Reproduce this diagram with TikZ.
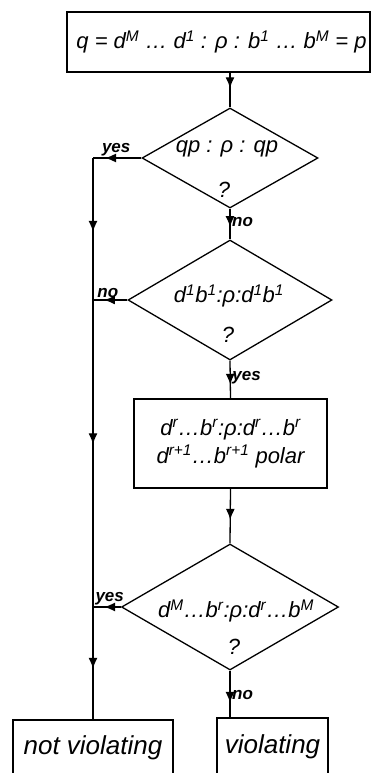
\documentclass[tikz,border=0pt]{standalone}
\usepackage{fontspec}
\setmainfont{Liberation Sans}
\usetikzlibrary{shapes.geometric, arrows.meta, decorations.markings}

\newcommand{\upx}[1]{\textsuperscript{#1}}

\begin{document}
\begin{tikzpicture}[
    x=1pt, y=-1pt,
    line width=1.3pt,
    every node/.style={font=\fontsize{22}{28}\selectfont\itshape},
    box/.style={draw, rectangle, inner sep=0pt},
    decision/.style={draw, diamond, inner sep=0pt},
    big/.style={font=\fontsize{26}{30}\selectfont\itshape},
    lbl/.style={font=\fontsize{17}{19}\selectfont\bfseries\itshape, inner sep=1.5pt},
    midarrow/.style={postaction={decorate},
      decoration={markings, mark=at position #1 with {\arrow{Latex[length=11pt,width=9pt]}}}},
    midarrow/.default=0.5,
  ]
    \clip (0,0) rectangle (371,773);        % Bildrand

    % Start
    \node[box, minimum width=303, minimum height=60] (top) at (218.5,42)
      {\hspace{6pt}q = d\upx{M} \dots\ d\upx{1} : ρ : b\upx{1} \dots\ b\upx{M} = p};

    % Abfragen und Zwischenschritt
    \node[decision, minimum width=176, minimum height=100] (d1) at (230,158) {};
    \node (d1txt) at (227,149) {qp : ρ : qp};
    \node (d1q) at (224,190) {?};

    \node[decision, minimum width=204, minimum height=120] (d2) at (230,300) {};
    \node (d2txt) at (229,296) {d\upx{1}b\upx{1}:ρ:d\upx{1}b\upx{1}};
    \node (d2q) at (228,335) {?};

    \node[box, minimum width=193, minimum height=89, align=center] (rr) at (230.5,443.5)
      {d\upx{r}\dots b\upx{r}:ρ:d\upx{r}\dots b\upx{r}\\
       d\upx{r+1}\dots b\upx{r+1} polar};

    \node[decision, minimum width=217, minimum height=126] (d3) at (230,607) {};
    \node (d3txt) at (236,611) {d\upx{M}\dots b\upx{r}:ρ:d\upx{r}\dots b\upx{M}};
    \node (d3q) at (234,647) {?};

    % Ergebnis
    \node[box, big, minimum width=160, minimum height=56] (nv) at (93,748) {not violating};
    \node[box, big, minimum width=111, minimum height=58] (vi) at (272.5,747) {violating};

    % Sammelleitung links
    \coordinate (j1) at (nv.north |- d1.west);
    \coordinate (j2) at (nv.north |- d2.west);
    \coordinate (j3) at (nv.north |- d3.west);

    % Verbindungen
    \draw[midarrow=0.45] (top.south -| d1.north) -- (d1.north);
    \draw[midarrow=0.6] (d1.south) -- (d2.north)
      node[lbl, right, pos=0.44] (no1) {no};
    \draw[midarrow=0.64] (d2.south) -- (rr.north)
      node[lbl, right, pos=0.44] (yes2) {yes};
    \draw[midarrow=0.57] (rr.south) -- (d3.north);
    \draw[midarrow=0.69] (d3.south) -- (d3.south |- vi.north)
      node[lbl, right, pos=0.52] (no3) {no};

    \draw[midarrow=0.75] (d1.west) -- (j1)
      node[lbl, above, pos=0.52] (yes1) {yes};
    \draw[midarrow=0.68] (d2.west) -- (j2)
      node[lbl, above, pos=0.57] (no2) {no};
    \draw[midarrow=0.6] (d3.west) -- (j3)
      node[lbl, above, pos=0.4] (yes3) {yes};
    \draw[midarrow=0.52] (j1) -- (j2);
    \draw[midarrow=0.47] (j2) -- (j3);
    \draw[midarrow=0.55] (j3) -- (nv.north);
  \end{tikzpicture}
\end{document}
